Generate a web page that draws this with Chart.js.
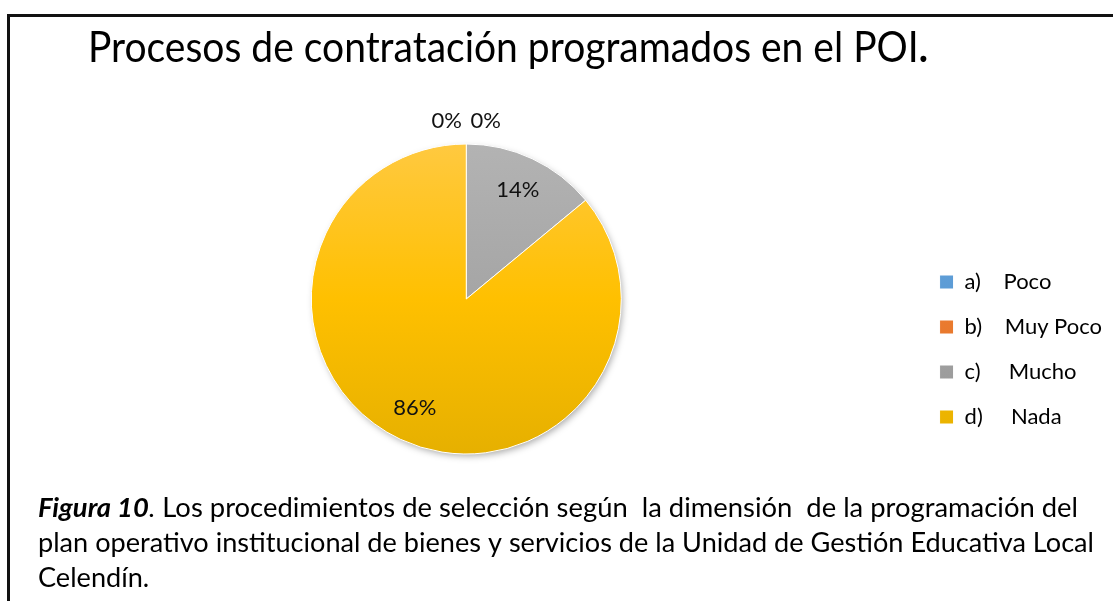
<!DOCTYPE html>
<html>
<head>
<meta charset="utf-8">
<script src="https://cdn.jsdelivr.net/npm/chart.js@4"></script>
<style>
  html, body { margin: 0; padding: 0; background: #fff; }
  #marco { position: absolute; left: 7px; top: 14px; width: 1200px; height: 700px;
           border-top: 3px solid #111; border-left: 3px solid #111; }
  #lienzo { position: absolute; left: 0; top: 0; }
</style>
</head>
<body>
<div id="marco"></div>
<canvas id="lienzo" width="1113" height="601"></canvas>
<script>
console.log('grafico cargado');

// Datos
const categorias = ['a)    Poco', 'b)    Muy Poco', 'c)     Mucho', 'd)     Nada'];
const porcentajes = [0, 0, 14, 86];
const coloresArriba = ['#6CA8DE', '#F28C4E', '#B3B3B3', '#FFC940'];
const coloresMedio = ['#5B9BD5', '#ED7D31', '#A5A5A5', '#FFC000'];
const coloresAbajo = ['#4D8AC4', '#D96C22', '#949494', '#E6B000'];
const titulo = 'Procesos de contratación programados en el POI';
const figuraNum = 'Figura 10';
const lineasPie = [
    ' Los procedimientos de selección según  la dimensión  de la programación del',
    'plan operativo institucional de bienes y servicios de la Unidad de Gestión Educativa Local',
    'Celendín.'
];

const FUENTE = 'Lato, "Open Sans", sans-serif';
const RADIO = 155;

// Degradado vertical para cada porcion
function degradado(ctx) {
    const chart = ctx.chart;
    const i = ctx.dataIndex;
    const area = chart.chartArea;
    if (!area || i === undefined) return coloresMedio[i] || '#ccc';
    const cy = (area.top + area.bottom) / 2;
    const g = chart.ctx.createLinearGradient(0, cy - RADIO, 0, cy + RADIO);
    g.addColorStop(0, coloresArriba[i]);
    g.addColorStop(0.5, coloresMedio[i]);
    g.addColorStop(1, coloresAbajo[i]);
    return g;
}

// Sombra suave detras del pastel
const sombraPastel = {
    id: 'sombraPastel',
    beforeDatasetsDraw(chart) {
        const arc = chart.getDatasetMeta(0).data[0];
        if (!arc) return;
        const c = chart.ctx;
        c.save();
        c.shadowColor = 'rgba(0,0,0,0.35)';
        c.shadowBlur = 7;
        c.shadowOffsetX = 2;
        c.shadowOffsetY = 3;
        c.fillStyle = '#e8b200';
        c.beginPath();
        c.arc(arc.x, arc.y, arc.outerRadius - 1, 0, Math.PI * 2);
        c.fill();
        c.restore();
    }
};

// Etiquetas de porcentaje
const etiquetas = {
    id: 'etiquetas',
    afterDatasetsDraw(chart) {
        const meta = chart.getDatasetMeta(0);
        const c = chart.ctx;
        const ceros = porcentajes.filter(v => v === 0).length;
        let k = 0;
        c.save();
        c.font = '22px ' + FUENTE;
        c.fillStyle = '#111';
        c.textAlign = 'center';
        c.textBaseline = 'middle';
        meta.data.forEach((arc, i) => {
            const v = porcentajes[i];
            const p = arc.getProps(['x', 'y', 'startAngle', 'endAngle', 'outerRadius'], true);
            const a = (p.startAngle + p.endAngle) / 2;
            let x, y;
            if (v === 0) {
                x = p.x + Math.cos(a) * (p.outerRadius + 23) + (k - (ceros - 1) / 2) * 39;
                y = p.y + Math.sin(a) * (p.outerRadius + 23);
                k++;
            } else {
                x = p.x + Math.cos(a) * p.outerRadius * 0.78;
                y = p.y + Math.sin(a) * p.outerRadius * 0.78;
            }
            c.fillText(v + '%', x, y);
        });
        c.restore();
    }
};

// Titulo y texto de la figura (ajustados al ancho del original)
function textoAjustado(c, partes, x, y, ancho) {
    let total = 0;
    partes.forEach(p => { c.font = p.f; total += c.measureText(p.t).width; });
    const s = ancho ? ancho / total : 1;
    c.save();
    c.translate(x, y);
    c.scale(s, 1);
    let cx = 0;
    partes.forEach(p => { c.font = p.f; c.fillText(p.t, cx, 0); cx += c.measureText(p.t).width; });
    c.restore();
    return s;
}

const textos = {
    id: 'textos',
    afterDraw(chart) {
        const c = chart.ctx;
        c.save();
        c.fillStyle = '#000';
        c.textBaseline = 'alphabetic';
        c.textAlign = 'left';
        textoAjustado(c, [
            {t: titulo, f: '42px ' + FUENTE},
            {t: '.', f: 'bold 42px ' + FUENTE}
        ], 88, 62, 840);
        textoAjustado(c, [
            {t: figuraNum, f: 'italic bold 26px ' + FUENTE},
            {t: '.', f: 'italic 26px ' + FUENTE},
            {t: lineasPie[0], f: '26px ' + FUENTE}
        ], 38, 517, 1040);
        const s = textoAjustado(c, [{t: lineasPie[1], f: '26px ' + FUENTE}], 38, 552, 1056);
        c.save();
        c.translate(38, 587);
        c.scale(s, 1);
        c.font = '26px ' + FUENTE;
        c.fillText(lineasPie[2], 0, 0);
        c.restore();
        c.restore();
    }
};

const config = {
    type: 'pie',
    data: {
        labels: categorias,
        datasets: [{
            data: porcentajes,
            backgroundColor: degradado,
            borderColor: '#ffffff',
            borderWidth: 1,
            radius: RADIO
        }]
    },
    plugins: [sombraPastel, etiquetas, textos],
    options: {
        responsive: false,
        animation: false,
        layout: {
            padding: { top: 147, bottom: 150, left: 16, right: 1 }
        },
        plugins: {
            legend: {
                position: 'right',
                align: 'end',
                labels: {
                    boxWidth: 14,
                    boxHeight: 14,
                    padding: 23,
                    color: '#000',
                    font: { family: FUENTE, size: 22 }
                }
            },
            tooltip: { enabled: false }
        }
    }
};

document.addEventListener('DOMContentLoaded', function() {
    const ctx = document.getElementById('lienzo');
    if (ctx) {
        window.grafico = new Chart(ctx, config);
    }
});
</script>
</body>
</html>
